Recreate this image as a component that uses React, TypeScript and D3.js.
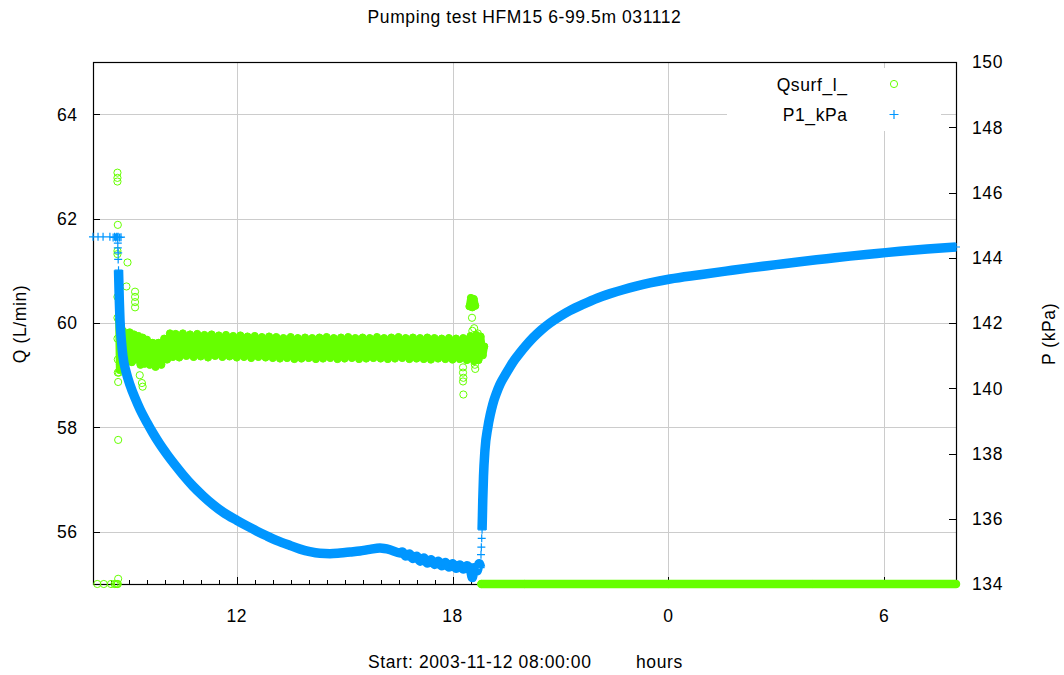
import React from 'react';
import * as d3 from 'd3';

type Pt = [number, number];

// x axis: hours since midnight of 2003-11-12 (8 = start 08:00)
const xTickValues = [12, 18, 24, 30];
const xTickLabels = ['12', '18', '0', '6'];
const qTickValues = [56, 58, 60, 62, 64];
const pTickValues = [134, 136, 138, 140, 142, 144, 146, 148, 150];

const title = 'Pumping test HFM15 6-99.5m 031112';
const xLabel = 'Start: 2003-11-12 08:00:00';
const xUnit = 'hours';
const qLabel = 'Q (L/min)';
const pLabel = 'P (kPa)';
const seriesNames = ['Qsurf_l_', 'P1_kPa'];

// Qsurf_l_ (L/min)
const qIdle: Pt[] = [
  [8.12, 55], [8.3, 55], [8.5, 55], [8.6, 55], [8.64, 55], [8.67, 55], [8.69, 55], [8.7, 55.1],
];
const qBand: Pt[] = [
  [8.72, 60.05], [8.74, 59.1], [8.77, 59.95], [8.8, 59.15], [8.83, 59.85], [8.86, 59.2],
  [8.9, 59.8], [8.96, 59.28], [9.02, 59.82], [9.08, 59.25], [9.14, 59.78], [9.2, 59.3],
  [9.26, 59.75], [9.32, 59.2], [9.38, 59.72], [9.44, 59.22], [9.5, 59.68], [9.58, 59.2],
  [9.66, 59.62], [9.74, 59.16], [9.82, 59.62], [9.9, 59.2], [9.98, 59.7], [10.06, 59.3],
  [10.14, 59.8], [10.22, 59.35], [10.3, 59.79], [10.4, 59.34], [10.5, 59.8], [10.6, 59.37],
  [10.7, 59.78], [10.8, 59.35], [10.9, 59.79], [11.0, 59.36], [11.1, 59.77], [11.2, 59.34],
  [11.3, 59.78], [11.4, 59.37], [11.5, 59.76], [11.6, 59.35], [11.7, 59.77], [11.8, 59.36],
  [11.9, 59.75], [12.0, 59.34], [12.1, 59.76], [12.2, 59.35], [12.3, 59.74], [12.4, 59.33],
  [12.5, 59.75], [12.6, 59.35], [12.7, 59.73], [12.8, 59.34], [12.9, 59.74], [13.0, 59.33],
  [13.1, 59.73], [13.2, 59.32], [13.3, 59.71], [13.4, 59.33], [13.5, 59.73], [13.6, 59.31],
  [13.7, 59.71], [13.8, 59.32], [13.9, 59.72], [14.0, 59.33], [14.1, 59.71], [14.2, 59.31],
  [14.3, 59.72], [14.4, 59.32], [14.5, 59.73], [14.6, 59.33], [14.7, 59.71], [14.8, 59.31],
  [14.9, 59.72], [15.0, 59.32], [15.1, 59.73], [15.2, 59.33], [15.3, 59.71], [15.4, 59.31],
  [15.5, 59.72], [15.6, 59.32], [15.7, 59.71], [15.8, 59.33], [15.9, 59.73], [16.0, 59.32],
  [16.1, 59.71], [16.2, 59.31], [16.3, 59.72], [16.4, 59.32], [16.5, 59.73], [16.6, 59.33],
  [16.7, 59.71], [16.8, 59.31], [16.9, 59.72], [17.0, 59.32], [17.1, 59.71], [17.2, 59.31],
  [17.3, 59.72], [17.4, 59.3], [17.5, 59.71], [17.6, 59.32], [17.7, 59.7], [17.8, 59.31],
  [17.9, 59.71], [18.0, 59.3], [18.1, 59.7], [18.2, 59.31], [18.3, 59.71], [18.4, 59.29],
  [18.5, 59.75], [18.6, 59.27], [18.66, 59.77], [18.72, 59.29], [18.78, 59.74], [18.84, 59.38],
  [18.88, 59.55],
];
const qBurst: Pt[] = [
  [18.47, 60.32], [18.51, 60.48], [18.55, 60.3], [18.59, 60.46], [18.63, 60.33],
];
const qOutliers: Pt[] = [
  [8.68, 62.88], [8.68, 62.78], [8.68, 62.71], [8.69, 61.88], [8.68, 61.38], [8.68, 61.32],
  [8.96, 61.16], [8.93, 60.7], [9.17, 60.6], [9.17, 60.5], [9.17, 60.4], [9.17, 60.3],
  [8.68, 60.5], [8.68, 60.1], [8.68, 59.7], [8.69, 59.3], [8.69, 59.05], [8.7, 58.87],
  [8.7, 57.76], [9.3, 59.0], [9.36, 58.85], [9.38, 58.78], [8.72, 59.05], [8.75, 59.2],
  [18.54, 60.1], [18.55, 59.85], [18.6, 59.9],
  [18.29, 59.15], [18.29, 59.05], [18.3, 58.95], [18.29, 58.88], [18.3, 58.63],
  [18.62, 59.2], [18.63, 59.12], [18.7, 59.8],
];
const qStopped: Pt[] = [[18.8, 55], [20, 55], [24, 55], [28, 55], [32, 55]];

// P1_kPa (kPa)
const pIdle: Pt[] = [
  [8.0, 144.64], [8.14, 144.64], [8.28, 144.64], [8.47, 144.64], [8.56, 144.62], [8.6, 144.64],
  [8.63, 144.62], [8.66, 144.64], [8.68, 144.62], [8.7, 144.64], [8.74, 144.62], [8.78, 144.63],
];
const pStartStep: Pt[] = [[8.69, 144.45], [8.69, 144.3], [8.7, 144.15], [8.7, 143.95]];
const pDrawdown: Pt[] = [
  [8.71, 143.62], [8.73, 142.75], [8.75, 142.1], [8.79, 141.45], [8.83, 141.0], [8.92, 140.5],
  [9.03, 140.1], [9.17, 139.7], [9.31, 139.35], [9.5, 138.95], [9.67, 138.62], [9.85, 138.3],
  [10.06, 137.97], [10.28, 137.65], [10.5, 137.35], [10.78, 137.0], [11.06, 136.7],
  [11.34, 136.43], [11.62, 136.2], [12.0, 135.95], [12.28, 135.78], [12.56, 135.62],
  [12.84, 135.47], [13.12, 135.33], [13.48, 135.18], [13.76, 135.07], [14.03, 134.99],
  [14.31, 134.94], [14.59, 134.93], [14.87, 134.95], [15.15, 134.98], [15.42, 135.01],
  [15.7, 135.06], [15.98, 135.1], [16.26, 135.05], [16.54, 134.95], [16.6, 134.98],
  [16.7, 134.86], [16.8, 134.92], [16.9, 134.78], [17.0, 134.85], [17.1, 134.7], [17.2, 134.8],
  [17.3, 134.64], [17.4, 134.74], [17.5, 134.6], [17.6, 134.7], [17.7, 134.56], [17.8, 134.66],
  [17.9, 134.52], [18.0, 134.62], [18.1, 134.48], [18.2, 134.58], [18.3, 134.46], [18.4, 134.56],
  [18.5, 134.42], [18.55, 134.2], [18.6, 134.5], [18.68, 134.4], [18.74, 134.62], [18.78, 134.5],
];
const pStopStep: Pt[] = [[18.79, 134.9], [18.8, 135.13], [18.81, 135.4]];
const pRecovery: Pt[] = [
  [18.82, 135.66], [18.83, 136.1], [18.84, 136.6], [18.86, 137.3], [18.9, 138.1],
  [18.98, 138.8], [19.05, 139.2], [19.12, 139.52], [19.22, 139.85], [19.32, 140.12],
  [19.46, 140.4], [19.6, 140.66], [19.73, 140.88], [19.87, 141.08], [20.05, 141.32],
  [20.24, 141.55], [20.47, 141.79], [20.71, 142.0], [20.98, 142.2], [21.26, 142.38],
  [21.64, 142.58], [22.02, 142.76], [22.38, 142.9], [22.74, 143.02], [23.11, 143.13],
  [23.49, 143.23], [24.05, 143.35], [24.88, 143.48], [25.6, 143.59], [26.27, 143.69],
  [27.0, 143.79], [27.66, 143.88], [28.4, 143.97], [29.05, 144.05], [29.8, 144.13],
  [30.44, 144.2], [31.2, 144.27], [32.0, 144.33],
];

const GREEN = '#66ff00';
const BLUE = '#0096ff';
const GRID = '#cccccc';
const FONT = "'Liberation Sans', Arial, Helvetica, sans-serif";

export default function App() {
  const W = 1064;
  const H = 675;
  const L = 93, R = 956, T = 62, B = 584;
  const x = d3.scaleLinear().domain([8, 32]).range([L, R]);
  const yQ = d3.scaleLinear().domain([55, 65]).range([B, T]);
  const yP = d3.scaleLinear().domain([134, 150]).range([B, T]);

  const lineQ = d3.line<Pt>().x((d) => x(d[0])).y((d) => yQ(d[1]));
  const lineP = d3
    .line<Pt>()
    .x((d) => x(d[0]))
    .y((d) => yP(d[1]))
    .curve(d3.curveMonotoneX);

  const minorTicks = d3.range(8.5, 32, 0.5).filter((t) => !xTickValues.includes(t));

  const plus = (pts: Pt[], sz = 4) =>
    pts
      .map((d) => {
        const cx = x(d[0]);
        const cy = yP(d[1]);
        return `M${cx - sz},${cy}h${2 * sz}M${cx},${cy - sz}v${2 * sz}`;
      })
      .join('');

  const allQPts = [...qIdle, ...qBand, ...qBurst, ...qOutliers, ...qStopped];
  const allPPts = [...pIdle, ...pStartStep, ...pDrawdown, ...pStopStep, ...pRecovery];

  const keyBox = { x0: 727, x1: 941, y0: 68, y1: 131 };

  const textStyle: React.CSSProperties = {
    fontFamily: FONT,
    fontSize: 17.5,
    letterSpacing: 0.6,
  };

  return (
    <svg
      width={W}
      height={H}
      viewBox={`0 0 ${W} ${H}`}
      style={{ position: 'absolute', left: 0, top: 0, background: '#fff' }}
    >
      <rect x={0} y={0} width={W} height={H} fill="#fff" />
      {/* grid */}
      <g stroke={GRID} strokeWidth={1}>
        {xTickValues.map((t) => (
          <line key={'gx' + t} x1={Math.round(x(t)) + 0.5} x2={Math.round(x(t)) + 0.5} y1={T} y2={B} />
        ))}
        {qTickValues.map((v) => (
          <line key={'gy' + v} x1={L} x2={R} y1={Math.round(yQ(v)) + 0.5} y2={Math.round(yQ(v)) + 0.5} />
        ))}
      </g>
      {/* key background */}
      <rect
        x={keyBox.x0}
        y={keyBox.y0}
        width={keyBox.x1 - keyBox.x0}
        height={keyBox.y1 - keyBox.y0}
        fill="#fff"
      />
      {/* ticks */}
      <g stroke="#000" strokeWidth={1}>
        {xTickValues.map((t) => (
          <line key={'tx' + t} x1={Math.round(x(t)) + 0.5} x2={Math.round(x(t)) + 0.5} y1={B} y2={B - 7} />
        ))}
        {minorTicks.map((t) => (
          <line key={'mx' + t} x1={Math.round(x(t)) + 0.5} x2={Math.round(x(t)) + 0.5} y1={B} y2={B - 4} />
        ))}
        {qTickValues.map((v) => (
          <line key={'tq' + v} x1={L} x2={L + 7} y1={Math.round(yQ(v)) + 0.5} y2={Math.round(yQ(v)) + 0.5} />
        ))}
        {pTickValues.map((v) => (
          <line key={'tp' + v} x1={R} x2={R - 7} y1={Math.round(yP(v)) + 0.5} y2={Math.round(yP(v)) + 0.5} />
        ))}
      </g>
      {/* border */}
      <rect x={L + 0.5} y={T + 0.5} width={R - L} height={B - T} fill="none" stroke="#000" strokeWidth={1.2} />

      {/* Q series */}
      <g fill="none" stroke={GREEN}>
        <path d={lineQ(qBand) || ''} strokeWidth={7.5} strokeLinejoin="round" strokeLinecap="round" />
        <path d={lineQ(qBurst) || ''} strokeWidth={7.5} strokeLinejoin="round" strokeLinecap="round" />
        <path d={lineQ(qStopped) || ''} strokeWidth={8.5} strokeLinecap="round" />
        {allQPts.map((d, i) => (
          <circle key={'q' + i} cx={x(d[0])} cy={yQ(d[1])} r={3.6} strokeWidth={1} />
        ))}
      </g>

      {/* P series */}
      <g fill="none" stroke={BLUE}>
        <path d={lineP(pDrawdown) || ''} strokeWidth={9.5} strokeLinejoin="round" />
        <path d={lineP(pRecovery) || ''} strokeWidth={9.5} strokeLinejoin="round" />
        <path d={plus(allPPts)} strokeWidth={1.2} />
      </g>

      {/* tick labels */}
      <g style={textStyle} fill="#000">
        {xTickValues.map((t, i) => (
          <text key={'lx' + t} x={x(t)} y={622} textAnchor="middle">
            {xTickLabels[i]}
          </text>
        ))}
        {qTickValues.map((v) => (
          <text key={'lq' + v} x={77.6} y={yQ(v) + 6.3} textAnchor="end">
            {v}
          </text>
        ))}
        {pTickValues.map((v) => (
          <text key={'lp' + v} x={972} y={yP(v) + 6.3} textAnchor="start">
            {v}
          </text>
        ))}
        <text x={524.5} y={23} textAnchor="middle">
          {title}
        </text>
        <text x={368} y={668} textAnchor="start">
          {xLabel}
        </text>
        <text x={636} y={668} textAnchor="start">
          {xUnit}
        </text>
        <text transform="translate(26,324) rotate(-90)" textAnchor="middle">
          {qLabel}
        </text>
        <text transform="translate(1055,334) rotate(-90)" textAnchor="middle">
          {pLabel}
        </text>
        {/* key */}
        <text x={847.6} y={90.5} textAnchor="end">
          {seriesNames[0]}
        </text>
        <text x={847.6} y={121} textAnchor="end">
          {seriesNames[1]}
        </text>
      </g>
      <circle cx={894} cy={84} r={3.6} fill="none" stroke={GREEN} strokeWidth={1} />
      <path d="M889.5,114.5h9M894,110v9" stroke={BLUE} strokeWidth={1.2} fill="none" />
    </svg>
  );
}
